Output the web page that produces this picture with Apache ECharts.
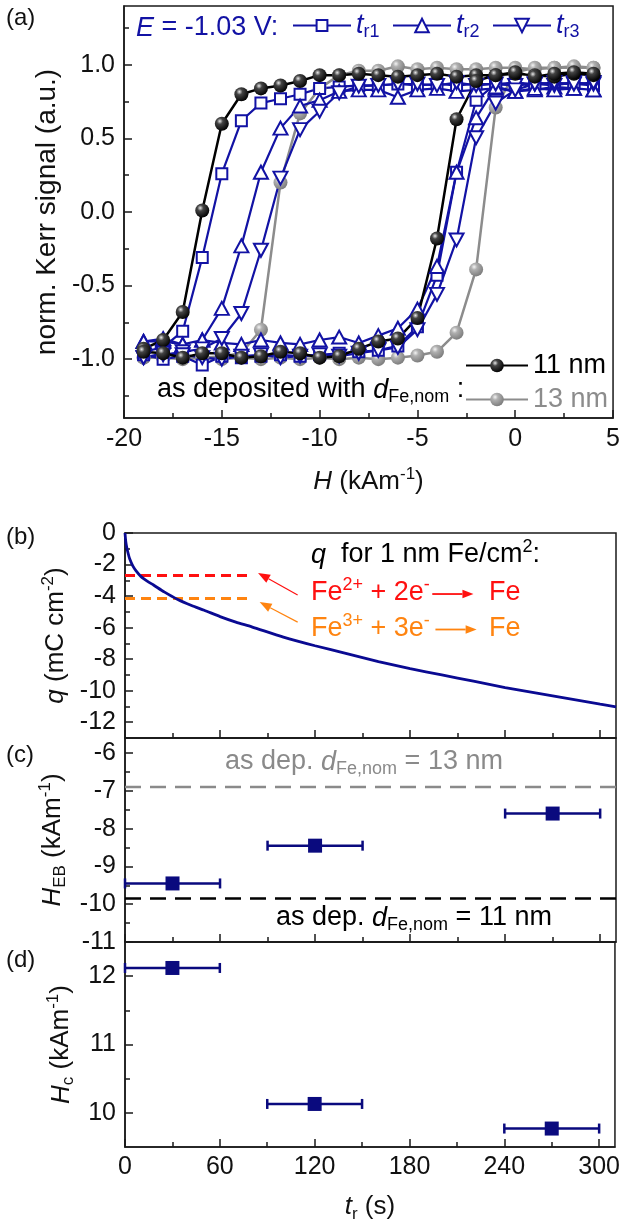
<!DOCTYPE html>
<html>
<head>
<meta charset="utf-8">
<script src="https://cdn.jsdelivr.net/npm/echarts@6/dist/echarts.min.js"></script>
<style>
  html, body { margin: 0; padding: 0; background: #fff; }
  #chart { width: 623px; height: 1229px; }
</style>
</head>
<body>
<div id="chart"></div>
<script>
// ---------- (a) Kerr hysteresis loops ----------
// field sweep, kA/m: descending branch then ascending branch
const H_DOWN = [4, 3, 2, 1, 0, -1, -2, -3, -4, -5, -6, -7, -8, -9, -10, -11, -12, -13, -14, -15, -16, -17, -18, -19];
const H_UP = [-19, -18, -17, -16, -15, -14, -13, -12, -11, -10, -9, -8, -7, -6, -5, -4, -3, -2, -1, 0, 1, 2, 3, 4];

// as deposited, d = 11 nm
const M11_DOWN = [0.93, 0.94, 0.92, 0.93, 0.94, 0.93, 0.93, 0.92, 0.94, 0.93, 0.92, 0.93, 0.94, 0.93, 0.93, 0.89, 0.86, 0.84, 0.80, 0.60, 0.01, -0.68, -0.87, -0.93];
const M11_UP = [-0.95, -0.96, -0.99, -0.96, -0.96, -0.99, -0.98, -0.95, -0.96, -0.99, -0.98, -0.93, -0.88, -0.86, -0.72, -0.18, 0.63, 0.89, 0.93, 0.95, 0.92, 0.94, 0.95, 0.94];
// as deposited, d = 13 nm
const M13_DOWN = [0.98, 0.98, 0.98, 0.97, 0.98, 0.98, 0.97, 0.97, 0.98, 0.97, 0.99, 0.96, 0.96, 0.93, 0.84, 0.67, 0.20, -0.80, -0.96, -0.98, -0.99, -0.99, -0.99, -0.99];
const M13_UP = [-0.99, -0.99, -1.00, -0.99, -1.00, -0.99, -1.00, -0.99, -1.00, -0.99, -1.00, -0.99, -1.00, -0.99, -0.975, -0.95, -0.82, -0.39, 0.71, 0.95, 0.98, 0.98, 0.99, 0.98];
// E = -1.03 V, t_r1
const MR1_DOWN = [0.86, 0.87, 0.87, 0.88, 0.86, 0.87, 0.87, 0.86, 0.87, 0.86, 0.87, 0.86, 0.86, 0.85, 0.84, 0.80, 0.77, 0.74, 0.62, 0.26, -0.31, -0.81, -0.92, -0.95];
const MR1_UP = [-0.97, -1.00, -0.98, -1.04, -0.98, -0.99, -0.98, -0.97, -0.98, -0.97, -0.96, -0.95, -0.94, -0.91, -0.78, -0.43, 0.27, 0.76, 0.87, 0.88, 0.87, 0.87, 0.88, 0.87];
// t_r2
const MR2_DOWN = [0.83, 0.84, 0.85, 0.83, 0.82, 0.84, 0.83, 0.82, 0.84, 0.83, 0.78, 0.83, 0.83, 0.82, 0.76, 0.72, 0.57, 0.27, -0.23, -0.655, -0.87, -0.90, -0.88, -0.88];
const MR2_UP = [-0.88, -0.86, -0.90, -0.87, -0.89, -0.90, -0.87, -0.89, -0.90, -0.87, -0.85, -0.89, -0.84, -0.79, -0.66, -0.37, 0.27, 0.64, 0.85, 0.82, 0.84, 0.83, 0.84, 0.83];
// t_r3
const MR3_DOWN = [0.87, 0.88, 0.86, 0.87, 0.86, 0.87, 0.86, 0.88, 0.86, 0.87, 0.87, 0.86, 0.855, 0.81, 0.685, 0.56, 0.23, -0.26, -0.69, -0.86, -0.93, -0.95, -0.97, -0.99];
const MR3_UP = [-0.99, -0.96, -0.97, -0.99, -1.00, -0.98, -0.97, -0.99, -0.98, -0.97, -0.98, -0.96, -0.94, -0.92, -0.80, -0.56, -0.19, 0.505, 0.74, 0.83, 0.87, 0.88, 0.87, 0.88];

const H_TICKS = [-20, -15, -10, -5, 0, 5];
const H_MINOR = [-17.5, -12.5, -7.5, -2.5, 2.5];
const KERR_TICKS = [-1, -0.5, 0, 0.5, 1];
const KERR_MINOR = [-1.25, -0.75, -0.25, 0.25, 0.75, 1.25];

// ---------- (b) transferred charge ----------
const T_Q = [0, 0.5, 1, 2, 3, 5, 7, 10, 14, 18, 25, 33, 42, 50, 60, 70, 80, 100, 120, 140, 160, 180, 200, 220, 240, 260, 280, 300, 310];
const Q_VALS = [0, -0.55, -0.85, -1.3, -1.65, -2.1, -2.4, -2.75, -3.05, -3.3, -3.75, -4.2, -4.6, -4.9, -5.3, -5.65, -5.95, -6.6, -7.15, -7.65, -8.15, -8.6, -9.0, -9.4, -9.8, -10.15, -10.5, -10.85, -11.02];
const Q_FE2 = -2.7;    // 1 nm Fe/cm^2 from Fe2+
const Q_FE3 = -4.15;   // 1 nm Fe/cm^2 from Fe3+
const Q_REF_T = [0, 78];
const Q_TICKS = [0, -2, -4, -6, -8, -10, -12];
const Q_MINOR = [-1, -3, -5, -7, -9, -11];

// ---------- (c), (d) exchange bias and coercivity vs t_r ----------
const T_R = [30, 120, 270];
const T_R_ERR = [30, 30, 30];
const H_EB = [-9.45, -8.45, -7.6];
const H_C = [12.12, 10.13, 9.77];
const H_EB_AS_DEP_11 = -9.85;
const H_EB_AS_DEP_13 = -6.9;
const HEB_TICKS = [-6, -7, -8, -9, -10, -11];
const HEB_MINOR = [-6.5, -7.5, -8.5, -9.5, -10.5];
const HC_TICKS = [10, 11, 12];
const HC_MINOR = [10.5, 11.5];
const TR_TICKS = [0, 60, 120, 180, 240, 300];
const TR_MINOR = [30, 90, 150, 210, 270];

// ---------- styling ----------
const FONT = '"Liberation Sans", Arial, Helvetica, sans-serif';
const BLUE = '#1212a4';
const NAVY = '#0a0a7e';
const CURVE = '#0a0a92';
const GREY = '#8c8c8c';
const RED = '#ff1010';
const ORANGE = '#ff8410';
const FRAME = '#1a1a1a';
const TICK_FS = 25;
const TITLE_FS = 26;
const TEXT_FS = 27;

const GRIDS = [
  { left: 124, top: 6, width: 492, height: 412 },
  { left: 125, top: 533, width: 491, height: 205 },
  { left: 125, top: 738, width: 491, height: 204 },
  { left: 125, top: 942, width: 491, height: 205 }
];

function richStyles(fs, color) {
  const c = color ? { color: color } : {};
  return {
    i: Object.assign({ fontStyle: 'italic', fontSize: fs, fontFamily: FONT, lineHeight: fs + 6 }, c),
    n: Object.assign({ fontSize: fs, fontFamily: FONT, lineHeight: fs + 6 }, c),
    sub: Object.assign({ fontSize: Math.round(fs * 0.66), fontFamily: FONT, lineHeight: 10, verticalAlign: 'bottom' }, c),
    sup: Object.assign({ fontSize: Math.round(fs * 0.66), fontFamily: FONT, lineHeight: 10, verticalAlign: 'top' }, c)
  };
}

function mainAxis(dim, grid, range, ticks, opts) {
  opts = opts || {};
  const nameFs = opts.nameSize || TITLE_FS;
  return {
    type: 'value',
    gridIndex: grid,
    position: dim === 'x' ? 'bottom' : 'left',
    min: range[0],
    max: range[1],
    axisLine: { show: true, onZero: false, lineStyle: { color: FRAME, width: 1.5 } },
    axisTick: { show: true, inside: true, length: 8, customValues: ticks, lineStyle: { color: FRAME, width: 1.5 } },
    axisLabel: {
      show: opts.labels !== false,
      customValues: ticks,
      fontSize: TICK_FS,
      fontFamily: FONT,
      color: '#111',
      margin: opts.margin || 9,
      formatter: opts.formatter
    },
    splitLine: { show: false },
    name: opts.name || '',
    nameLocation: 'middle',
    nameGap: opts.nameGap || 40,
    nameTextStyle: { color: '#111', fontSize: nameFs, fontFamily: FONT, rich: richStyles(nameFs) }
  };
}

function minorAxis(dim, grid, range, minors) {
  return {
    type: 'value',
    gridIndex: grid,
    position: dim === 'x' ? 'bottom' : 'left',
    min: range[0],
    max: range[1],
    axisLine: { show: false, onZero: false },
    axisTick: { show: true, inside: true, length: 5, customValues: minors, lineStyle: { color: FRAME, width: 1.5 } },
    axisLabel: { show: false },
    splitLine: { show: false }
  };
}

const X_A = [-20, 5], Y_A = [-1.4, 1.4];
const X_T = [0, 310];
const Y_B = [-13, 0], Y_C = [-11, -5.6], Y_D = [9.5, 12.5];

const xAxes = [
  mainAxis('x', 0, X_A, H_TICKS, { margin: 9, name: '{i|H} {n|(kAm}{sup|-1}{n|)}', nameGap: 48 }),
  mainAxis('x', 1, X_T, TR_TICKS, { labels: false }),
  mainAxis('x', 2, X_T, TR_TICKS, { labels: false }),
  mainAxis('x', 3, X_T, TR_TICKS, { margin: 8, name: '{i|t}{sub|r}{n| (s)}', nameGap: 44 }),
  minorAxis('x', 0, X_A, H_MINOR),
  minorAxis('x', 1, X_T, TR_MINOR),
  minorAxis('x', 2, X_T, TR_MINOR),
  minorAxis('x', 3, X_T, TR_MINOR)
];
const yAxes = [
  mainAxis('y', 0, Y_A, KERR_TICKS, { margin: 9, formatter: v => v.toFixed(1), name: '{n|norm. Kerr signal (a.u.)}', nameGap: 53, nameSize: 28 }),
  mainAxis('y', 1, Y_B, Q_TICKS, { margin: 9, name: '{i|q}{n| (mC cm}{sup|-2}{n|)}', nameGap: 47 }),
  mainAxis('y', 2, Y_C, HEB_TICKS, { margin: 9, name: '{i|H}{sub|EB}{n| (kAm}{sup|-1}{n|)}', nameGap: 47 }),
  mainAxis('y', 3, Y_D, HC_TICKS, { margin: 9, name: '{i|H}{sub|c}{n| (kAm}{sup|-1}{n|)}', nameGap: 47 }),
  minorAxis('y', 0, Y_A, KERR_MINOR),
  minorAxis('y', 1, Y_B, Q_MINOR),
  minorAxis('y', 2, Y_C, HEB_MINOR),
  minorAxis('y', 3, Y_D, HC_MINOR)
];

function loop(hDown, mDown, hUp, mUp) {
  return hDown.map((h, i) => [h, mDown[i]]).concat(hUp.map((h, i) => [h, mUp[i]]));
}

function sphere(light, mid, dark) {
  return {
    type: 'radial', x: 0.36, y: 0.32, r: 0.72,
    colorStops: [
      { offset: 0, color: light },
      { offset: 0.3, color: mid },
      { offset: 1, color: dark }
    ]
  };
}

const DOWN_TRIANGLE = 'path://M0,0L20,0L10,17.3Z';

function blueLoop(name, data, symbol, size) {
  return {
    name: name, type: 'line', xAxisIndex: 0, yAxisIndex: 0,
    data: data, symbol: symbol, symbolSize: size, showSymbol: true,
    color: BLUE,
    lineStyle: { color: BLUE, width: 2.2 },
    itemStyle: { color: '#fff', borderColor: BLUE, borderWidth: 2 },
    emphasis: { disabled: true }
  };
}

const series = [
  {
    name: '13 nm', type: 'line', xAxisIndex: 0, yAxisIndex: 0,
    data: loop(H_DOWN, M13_DOWN, H_UP, M13_UP),
    symbol: 'circle', symbolSize: 14, color: GREY,
    lineStyle: { color: GREY, width: 2.5 },
    itemStyle: { color: sphere('#f4f4f4', '#b0b0b0', '#7a7a7a') },
    emphasis: { disabled: true }
  },
  blueLoop('t_r1', loop(H_DOWN, MR1_DOWN, H_UP, MR1_UP), 'rect', 11),
  blueLoop('t_r2', loop(H_DOWN, MR2_DOWN, H_UP, MR2_UP), 'triangle', [14, 13]),
  blueLoop('t_r3', loop(H_DOWN, MR3_DOWN, H_UP, MR3_UP), DOWN_TRIANGLE, [14, 13]),
  {
    name: '11 nm', type: 'line', xAxisIndex: 0, yAxisIndex: 0,
    data: loop(H_DOWN, M11_DOWN, H_UP, M11_UP),
    symbol: 'circle', symbolSize: 14, color: '#000',
    lineStyle: { color: '#000', width: 2.5 },
    itemStyle: { color: sphere('#e8e8e8', '#444', '#000') },
    emphasis: { disabled: true }
  },
  // (b) charge needed for 1 nm Fe per cm^2
  {
    type: 'line', xAxisIndex: 1, yAxisIndex: 1, symbol: 'none', silent: true,
    data: Q_REF_T.map(t => [t, Q_FE2]),
    lineStyle: { color: RED, width: 3, type: [10, 6] }
  },
  {
    type: 'line', xAxisIndex: 1, yAxisIndex: 1, symbol: 'none', silent: true,
    data: Q_REF_T.map(t => [t, Q_FE3]),
    lineStyle: { color: ORANGE, width: 3, type: [10, 6] }
  },
  {
    type: 'line', xAxisIndex: 1, yAxisIndex: 1, symbol: 'none', smooth: 0.25,
    data: T_Q.map((t, i) => [t, Q_VALS[i]]),
    lineStyle: { color: CURVE, width: 2.8 }
  },
  // (c) as-deposited reference levels
  {
    type: 'line', xAxisIndex: 2, yAxisIndex: 2, symbol: 'none', silent: true,
    data: X_T.map(t => [t, H_EB_AS_DEP_13]),
    lineStyle: { color: '#8a8a8a', width: 2.5, type: [16, 9] }
  },
  {
    type: 'line', xAxisIndex: 2, yAxisIndex: 2, symbol: 'none', silent: true,
    data: X_T.map(t => [t, H_EB_AS_DEP_11]),
    lineStyle: { color: '#000', width: 2.5, type: [16, 9] }
  }
];

function errorBars(xIdx, yIdx, values) {
  return {
    type: 'custom', xAxisIndex: xIdx, yAxisIndex: yIdx, silent: true,
    data: T_R.map((t, i) => [t, values[i], T_R_ERR[i]]),
    renderItem: function (params, api) {
      const x = api.value(0), y = api.value(1), e = api.value(2);
      const a = api.coord([x - e, y]);
      const b = api.coord([x + e, y]);
      const st = { stroke: NAVY, lineWidth: 2.5 };
      const cap = 5;
      return {
        type: 'group',
        children: [
          { type: 'line', shape: { x1: a[0], y1: a[1], x2: b[0], y2: b[1] }, style: st },
          { type: 'line', shape: { x1: a[0], y1: a[1] - cap, x2: a[0], y2: a[1] + cap }, style: st },
          { type: 'line', shape: { x1: b[0], y1: b[1] - cap, x2: b[0], y2: b[1] + cap }, style: st }
        ]
      };
    }
  };
}

function squares(xIdx, yIdx, values) {
  return {
    type: 'scatter', xAxisIndex: xIdx, yAxisIndex: yIdx, symbol: 'rect', symbolSize: 14,
    data: T_R.map((t, i) => [t, values[i]]),
    itemStyle: { color: NAVY, opacity: 1 },
    emphasis: { disabled: true }
  };
}

series.push(errorBars(2, 2, H_EB), squares(2, 2, H_EB), errorBars(3, 3, H_C), squares(3, 3, H_C));

function legendItem(name, left, top, itemWidth, itemHeight, color) {
  return {
    data: [name], left: left, top: top, orient: 'horizontal', padding: 0,
    itemWidth: itemWidth, itemHeight: itemHeight, selectedMode: false,
    formatter: function (n) {
      if (n.indexOf('t_') === 0) return '{t|t}{s|' + n.slice(2) + '}';
      return '{m|' + n + '}';
    },
    textStyle: {
      color: color, fontFamily: FONT, fontSize: TEXT_FS,
      rich: {
        t: { fontStyle: 'italic', fontSize: TEXT_FS, fontFamily: FONT, lineHeight: 32, color: color },
        s: { fontSize: 18, fontFamily: FONT, lineHeight: 10, verticalAlign: 'bottom', color: color },
        m: { fontSize: TEXT_FS, fontFamily: FONT, lineHeight: 32, color: color }
      }
    }
  };
}

const legends = [
  legendItem('t_r1', 292, 12, 58, 13.5, BLUE),
  legendItem('t_r2', 392, 12, 58, 17, BLUE),
  legendItem('t_r3', 492, 12, 58, 17, BLUE),
  legendItem('11 nm', 465, 352, 62, 17, '#000'),
  legendItem('13 nm', 465, 386, 62, 17, GREY)
];

function label(text, x, y, color, fs) {
  return {
    type: 'text', x: x, y: y, silent: true,
    style: {
      text: text, fill: color, fontSize: fs || TEXT_FS, fontFamily: FONT,
      verticalAlign: 'middle', align: 'left', rich: richStyles(fs || TEXT_FS, color)
    }
  };
}

const textGraphics = [
  label('{n|(a)}', 6, 18, '#111', 24),
  label('{n|(b)}', 6, 537, '#111', 24),
  label('{n|(c)}', 6, 755, '#111', 24),
  label('{n|(d)}', 6, 960, '#111', 24),
  label('{i|E}{n| = -1.03 V:}', 136, 28, BLUE),
  label('{n|as deposited with }{i|d}{sub|Fe,nom}{n| :}', 157, 390, '#000'),
  label('{i|q}{n|  for 1 nm Fe/cm}{sup|2}{n|:}', 311, 555, '#000'),
  label('{n|Fe}{sup|2+}{n| + 2e}{sup|-}', 311, 593, RED),
  label('{n|Fe}', 489, 593, RED),
  label('{n|Fe}{sup|3+}{n| + 3e}{sup|-}', 311, 629, ORANGE),
  label('{n|Fe}', 489, 629, ORANGE),
  label('{n|as dep. }{i|d}{sub|Fe,nom}{n| = 13 nm}', 225, 762, '#8a8a8a'),
  label('{n|as dep. }{i|d}{sub|Fe,nom}{n| = 11 nm}', 276, 918, '#000')
];

const chart = echarts.init(document.getElementById('chart'), null, { renderer: 'canvas' });
chart.setOption({
  backgroundColor: '#fff',
  animation: false,
  textStyle: { fontFamily: FONT },
  grid: GRIDS.map(g => Object.assign({ show: true, borderColor: FRAME, borderWidth: 1.5, backgroundColor: 'transparent' }, g)),
  xAxis: xAxes,
  yAxis: yAxes,
  legend: legends,
  series: series,
  graphic: textGraphics
});

// annotation arrows in panel (b), anchored in data coordinates
function arrow(from, to, color, width, head) {
  const p = chart.convertToPixel({ gridIndex: 1 }, from);
  const q = chart.convertToPixel({ gridIndex: 1 }, to);
  const dx = q[0] - p[0], dy = q[1] - p[1];
  const len = Math.sqrt(dx * dx + dy * dy);
  const ux = dx / len, uy = dy / len;
  const bx = q[0] - ux * head, by = q[1] - uy * head;
  const hw = head * 0.38;
  return [
    { type: 'line', silent: true, shape: { x1: p[0], y1: p[1], x2: bx, y2: by }, style: { stroke: color, lineWidth: width } },
    { type: 'polygon', silent: true, shape: { points: [[q[0], q[1]], [bx - uy * hw, by + ux * hw], [bx + uy * hw, by - ux * hw]] }, style: { fill: color } }
  ];
}

const arrows = [].concat(
  arrow([109, -3.93], [84, -2.53], RED, 1.2, 12),
  arrow([109, -5.65], [85, -4.38], ORANGE, 1.2, 12),
  arrow([194, -3.87], [220, -3.87], RED, 1.8, 11),
  arrow([196, -6.12], [222, -6.12], ORANGE, 1.8, 11)
);

chart.setOption({ graphic: textGraphics.concat(arrows) });
</script>
</body>
</html>
